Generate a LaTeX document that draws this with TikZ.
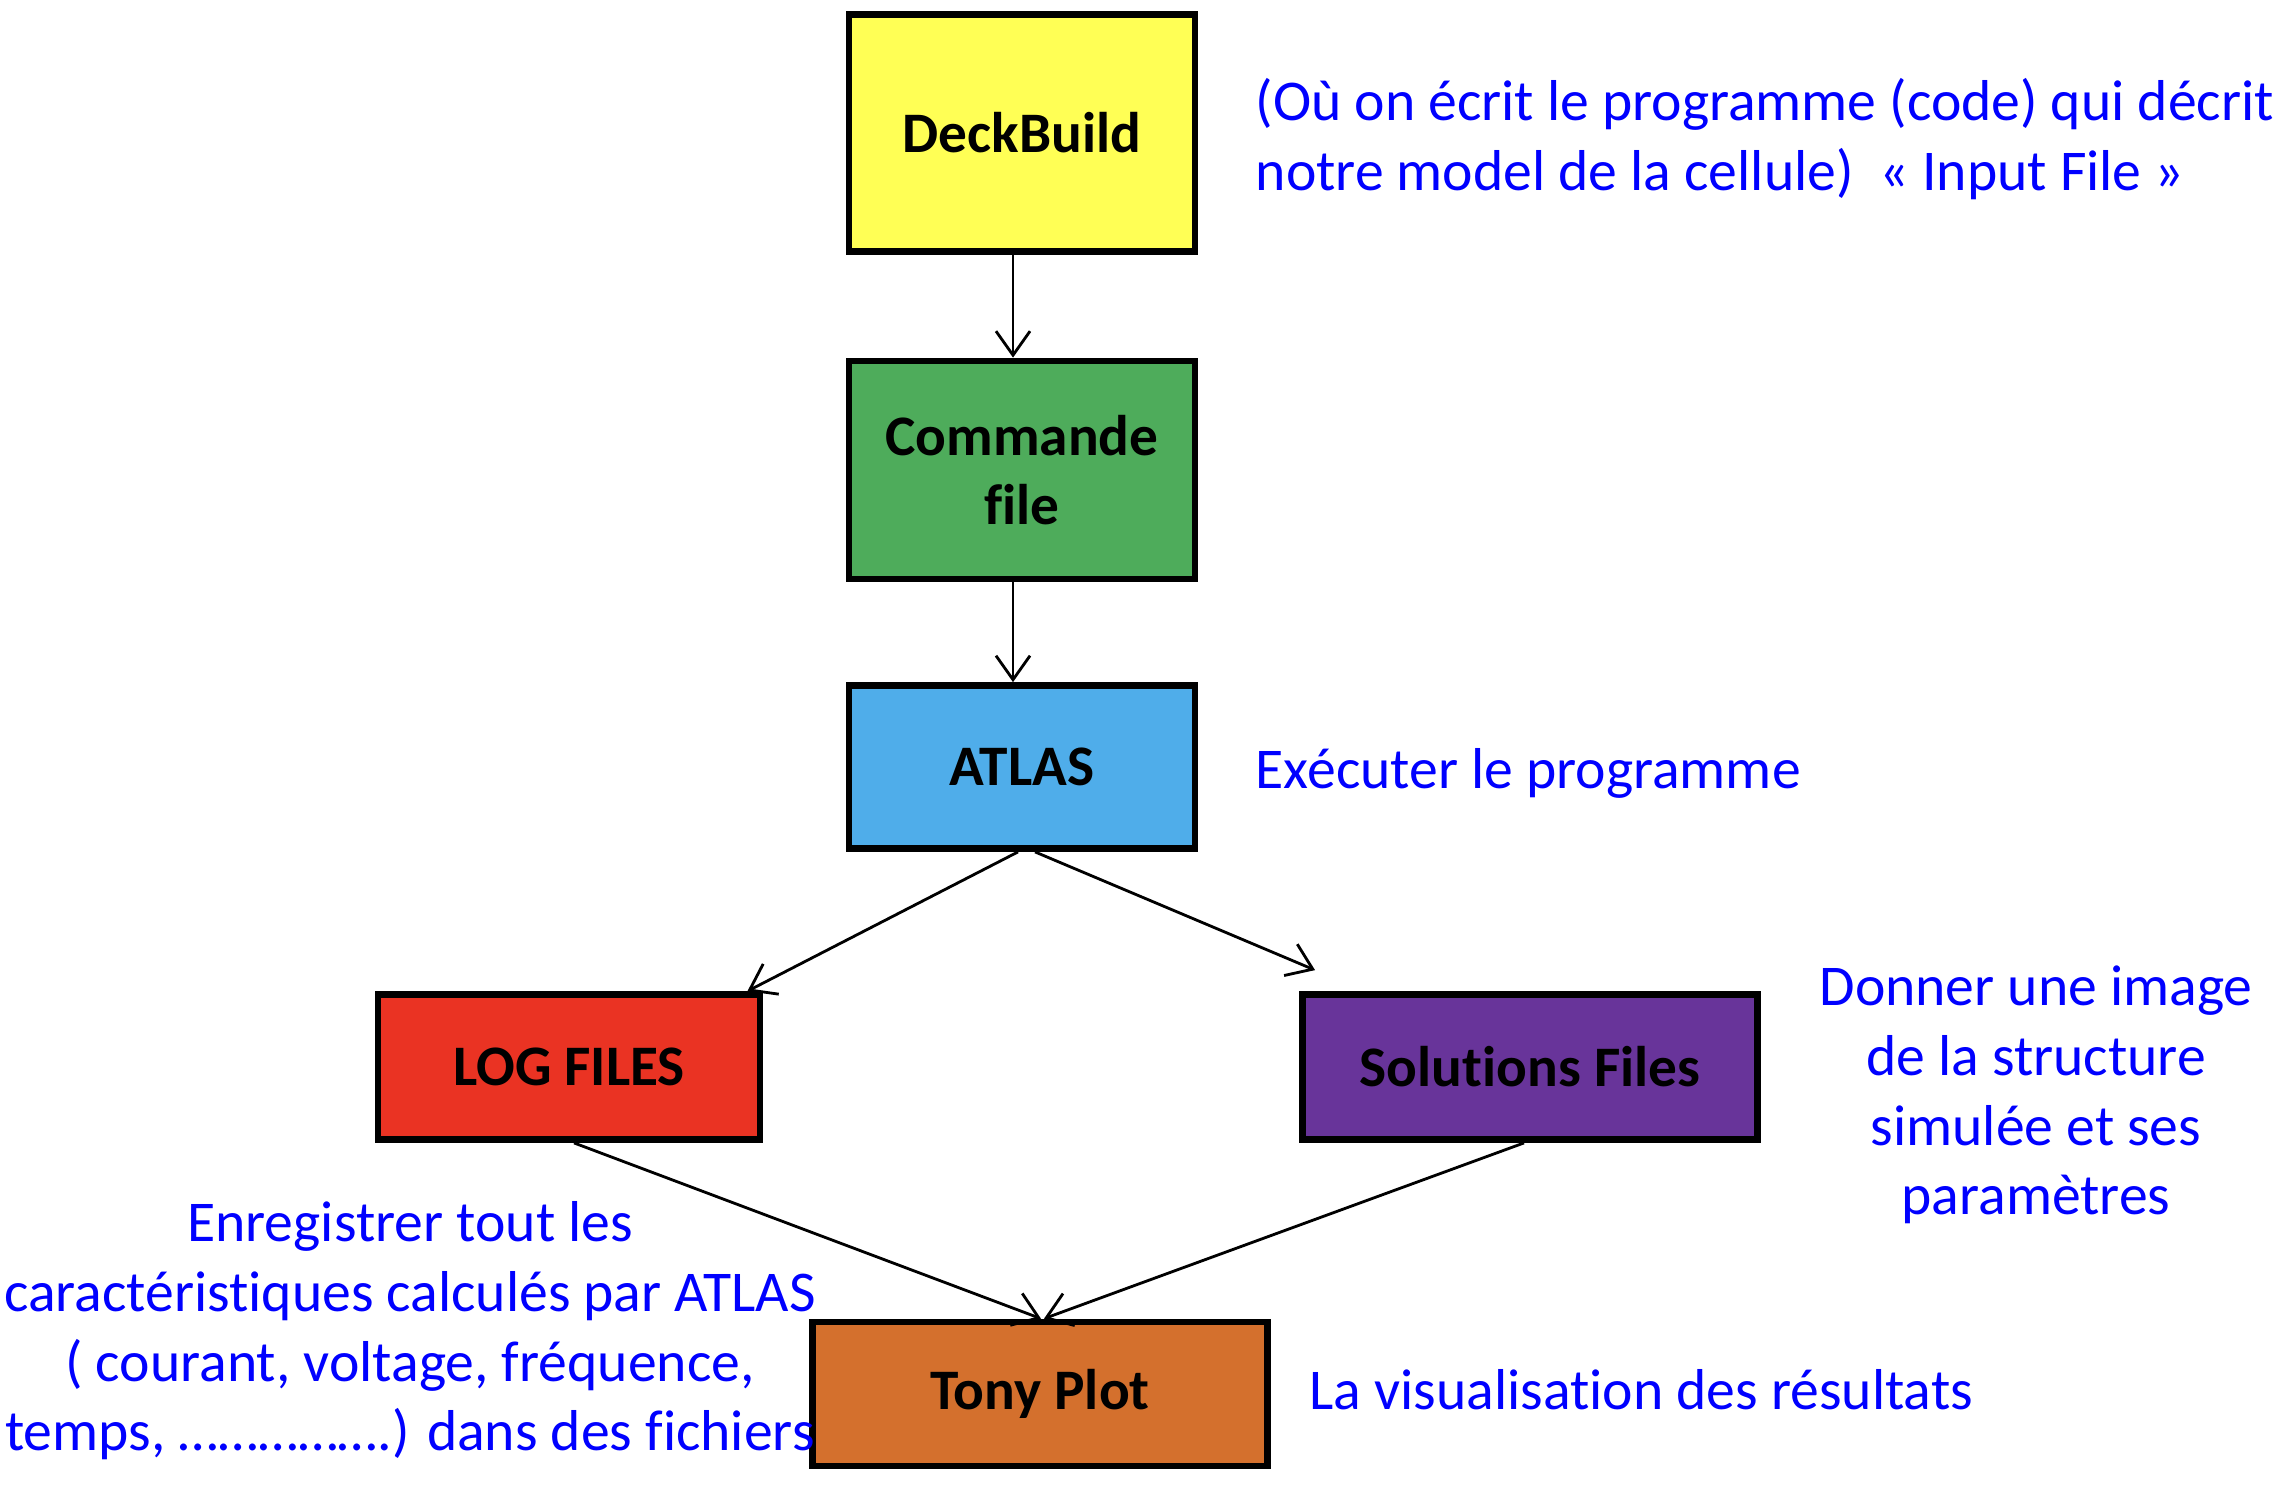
\documentclass[tikz,border=0pt]{standalone}
\usepackage{fontspec}
\setmainfont{Carlito}[Ligatures = NoCommon]
\usepackage{xcolor}
\usetikzlibrary{arrows, arrows.meta}

\definecolor{deckyellow}{HTML}{FFFF55}
\definecolor{cmdgreen}{HTML}{4EAC5B}
\definecolor{atlasblue}{HTML}{4FADEA}
\definecolor{logred}{HTML}{EA3323}
\definecolor{solpurple}{HTML}{68349A}
\definecolor{tonyorange}{HTML}{D4702D}
\definecolor{notebleu}{HTML}{0000FF}

\tikzset{
    boite/.style = {draw = black, line width = 1.9pt, inner sep = 0pt,
        align = center, font = \fontsize{16.3}{19.8}\selectfont\bfseries},
    note/.style = {text = notebleu, inner sep = 0pt,
        font = \fontsize{16.4}{19.8}\selectfont},
    fleche/.style = {-{Straight Barb[length = 2.4mm, width = 3.4mm]}, line width = 0.8pt}
}

\begin{document}
\begin{tikzpicture}[x = 0.01cm, y = -0.01cm]
        \useasboundingbox (0, 0) rectangle (2280, 1490);

        % les blocs
        \node[boite, fill = deckyellow, minimum width = 3.46cm, minimum height = 2.37cm]
            (deck) at (1022, 133) {DeckBuild};
        \node[boite, fill = cmdgreen, minimum width = 3.46cm, minimum height = 2.18cm]
            (cmd) at (1022, 470) {Commande\\file};
        \node[boite, fill = atlasblue, minimum width = 3.46cm, minimum height = 1.63cm]
            (atlas) at (1022, 767) {ATLAS};
        \node[boite, fill = logred, minimum width = 3.82cm, minimum height = 1.45cm]
            (log) at (569, 1067) {LOG FILES};
        \node[boite, fill = solpurple, minimum width = 4.55cm, minimum height = 1.45cm]
            (sol) at (1530, 1067) {Solutions Files};
        \node[boite, fill = tonyorange, minimum width = 4.55cm, minimum height = 1.44cm]
            (tony) at (1040, 1394) {Tony Plot};

        % les fleches
        \draw[fleche] ([xshift = -0.09cm]deck.south) -- ([xshift = -0.09cm]cmd.north);
        \draw[fleche] ([xshift = -0.09cm]cmd.south) -- ([xshift = -0.09cm]atlas.north);
        \draw[fleche] ([xshift = -0.04cm]atlas.south) -- ([xshift = -0.16cm]log.north east);
        \draw[fleche] ([xshift = 0.13cm]atlas.south) -- ([xshift = 0.16cm, yshift = 0.21cm]sol.north west);
        \draw[fleche] ([xshift = 0.05cm]log.south) -- ([xshift = 0.01cm]tony.north);
        \draw[fleche] ([xshift = -0.06cm]sol.south) -- ([xshift = 0.04cm]tony.north);

        % les commentaires
        \node[note, anchor = west, align = left] (n1) at (1255, 139)
            {(Où on écrit le programme (code) qui décrit\\notre model de la cellule)~~« Input File »};
        \node[note, anchor = west] (n2) at (1255, 773) {Exécuter le programme};
        \node[note, align = center] (n3) at (2036, 1095)
            {Donner une image\\de la structure\\simulée et ses\\paramètres};
        \node[note, align = center] (n4) at (410, 1331)
            {Enregistrer tout les\\caractéristiques calculés par ATLAS\\( courant, voltage, fréquence,\\temps, …………….) dans des fichiers};
        \node[note, anchor = west] (n5) at (1309, 1390) {La visualisation des résultats};
    \end{tikzpicture}
\end{document}
